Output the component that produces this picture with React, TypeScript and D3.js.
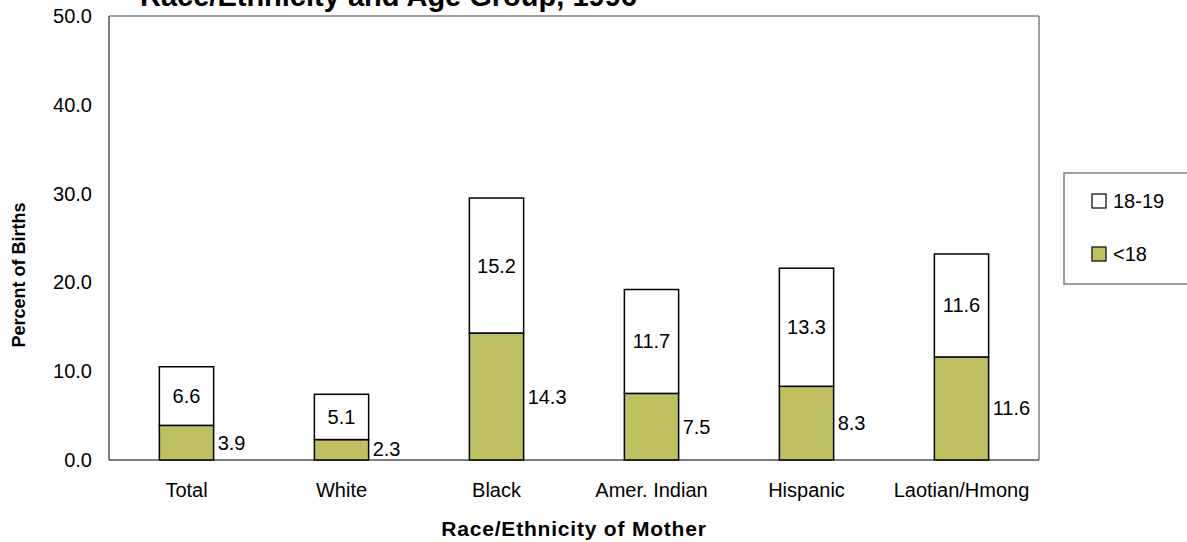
import React from "react";
import * as d3 from "d3";

const categories = ["Total", "White", "Black", "Amer. Indian", "Hispanic", "Laotian/Hmong"];
const under18 = [3.9, 2.3, 14.3, 7.5, 8.3, 11.6];
const age1819 = [6.6, 5.1, 15.2, 11.7, 13.3, 11.6];
const yTicks = [0, 10, 20, 30, 40, 50];
const seriesNames = ["18-19", "<18"];

const W = 1187, H = 542;
const M = { left: 109, right: 1039, top: 16, bottom: 460 };
const GREEN = "#C0C060";
const FONT = "'Liberation Sans', Arial, sans-serif";

export default function App() {
  const x = d3.scaleBand<string>().domain(categories).range([M.left, M.right]).paddingInner(0.65).paddingOuter(0.325);
  const y = d3.scaleLinear().domain([0, 50]).range([M.bottom, M.top]);
  const bw = x.bandwidth();

  return (
    <svg width={W} height={H} style={{ position: "absolute", left: 0, top: 0, background: "#fff" }} fontFamily={FONT}>
      <rect x={0} y={0} width={W} height={H} fill="#fff" />
      {/* plot frame */}
      <line x1={M.left} y1={M.top} x2={M.right} y2={M.top} stroke="#808080" strokeWidth={1.5} />
      <line x1={M.right} y1={M.top} x2={M.right} y2={M.bottom} stroke="#808080" strokeWidth={1.5} />
      <line x1={M.left} y1={M.top} x2={M.left} y2={M.bottom} stroke="#000" strokeWidth={1} />
      <line x1={M.left} y1={M.bottom} x2={M.right} y2={M.bottom} stroke="#555" strokeWidth={1.5} />

      {/* title */}
      <text x={140} y={6} fontSize={29} fontWeight="bold">Race/Ethnicity and Age Group, 1996</text>

      {/* y ticks */}
      {yTicks.map((t) => (
        <text key={t} x={92} y={y(t)} dy="0.35em" textAnchor="end" fontSize={20}>{t.toFixed(1)}</text>
      ))}

      {/* bars */}
      {categories.map((c, i) => {
        const x0 = x(c)!;
        const a = under18[i];
        const b = age1819[i];
        const yA = y(a);
        const yB = y(a + b);
        const lblA = Math.min((y(0) + yA) / 2, M.bottom - 11);
        return (
          <g key={c}>
            <rect x={x0} y={yA} width={bw} height={y(0) - yA} fill={GREEN} stroke="#000" strokeWidth={1.5} />
            <rect x={x0} y={yB} width={bw} height={yA - yB} fill="#fff" stroke="#000" strokeWidth={1.5} />
            <text x={x0 + bw / 2} y={(yA + yB) / 2} dy="0.35em" textAnchor="middle" fontSize={20}>{b.toFixed(1)}</text>
            <text x={x0 + bw + 4} y={lblA} dy="0.35em" textAnchor="start" fontSize={20}>{a.toFixed(1)}</text>
          </g>
        );
      })}

      {/* category labels */}
      {categories.map((c) => (
        <text key={c} x={x(c)! + bw / 2} y={497} textAnchor="middle" fontSize={20}>{c}</text>
      ))}

      {/* axis titles */}
      <text x={574} y={536} textAnchor="middle" fontSize={21} fontWeight="bold" letterSpacing={0.8}>Race/Ethnicity of Mother</text>
      <text transform={`translate(19,${275}) rotate(-90)`} dy="0.35em" textAnchor="middle" fontSize={18} fontWeight="bold">Percent of Births</text>

      {/* legend */}
      <rect x={1064} y={173} width={130} height={111} fill="#fff" stroke="#808080" strokeWidth={1.5} />
      {seriesNames.map((s, i) => {
        const cy = i === 0 ? 201 : 254;
        return (
          <g key={s}>
            <rect x={1092} y={cy - 7} width={14} height={14} fill={i === 0 ? "#fff" : GREEN} stroke="#000" strokeWidth={1.2} />
            <text x={1113} y={cy} dy="0.35em" fontSize={20}>{s}</text>
          </g>
        );
      })}
    </svg>
  );
}
